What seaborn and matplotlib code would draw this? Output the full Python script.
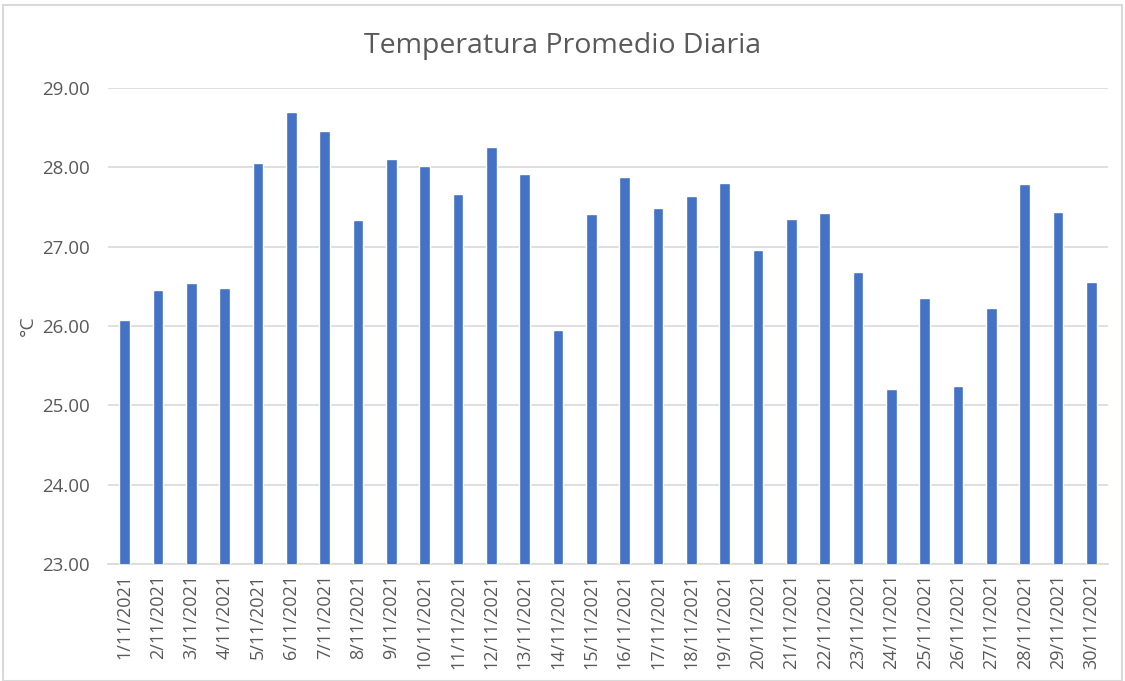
import matplotlib
matplotlib.use("Agg")
import matplotlib.pyplot as plt
import seaborn as sns
import pandas as pd
import numpy as np
from matplotlib.patches import Rectangle

# daily mean temperature, November 2021
dias = [f"{d}/11/2021" for d in range(1, 31)]
temp = [26.08, 26.46, 26.54, 26.48, 28.05, 28.70, 28.46, 27.34, 28.11, 28.02,
        27.67, 28.26, 27.91, 25.95, 27.41, 27.88, 27.49, 27.64, 27.80, 26.96,
        27.35, 27.42, 26.68, 25.20, 26.35, 25.24, 26.23, 27.79, 27.44, 26.55]
yticks = [23, 24, 25, 26, 27, 28, 29]

df = pd.DataFrame({"fecha": dias, "temp": temp})

sns.set_style("white")
plt.rcParams["font.family"] = ["Open Sans", "DejaVu Sans"]

gris_txt = "#595959"
gris_lin = "#D9D9D9"

fig = plt.figure(figsize=(11.25, 6.81), dpi=100)
ax = fig.add_axes([108 / 1125, 1 - 564 / 681, 1000 / 1125, 476 / 681])

sns.barplot(data=df, x="fecha", y="temp", color="#4472C4", width=0.32,
            saturation=1, ax=ax, zorder=3)

ax.set_ylim(23, 29)
ax.set_xlim(-0.5, len(dias) - 0.5)
ax.set_yticks(yticks)
ax.set_yticklabels([f"{v:.2f}" for v in yticks], fontsize=13.5, color=gris_txt)
ax.set_xticks(range(len(dias)))
ax.set_xticklabels(dias, rotation=90, fontsize=13, color=gris_txt)
ax.set_xticks(np.arange(-0.5, len(dias)), minor=True)
ax.tick_params(axis="x", which="major", length=0, pad=7)
ax.tick_params(axis="x", which="minor", length=5, width=1.2, color=gris_lin)
ax.tick_params(axis="y", length=0, pad=13)

ax.grid(axis="y", color=gris_lin, linewidth=1.2, zorder=0)
ax.set_axisbelow(True)
for s in ["top", "right", "left"]:
    ax.spines[s].set_visible(False)
ax.spines["bottom"].set_color(gris_lin)
ax.spines["bottom"].set_linewidth(1.2)

ax.set_xlabel("")
ax.set_ylabel("°C", fontsize=14, color=gris_txt, labelpad=4)

fig.text(0.5, 1 - 46 / 681, "Temperatura Promedio Diaria", ha="center",
         va="center", fontsize=20.5, color=gris_txt)

# chart area border
fig.patches.append(Rectangle((3 / 1125, 0), 1 - 6 / 1125, 1 - 5 / 681,
                             transform=fig.transFigure, fill=False,
                             edgecolor=gris_lin, linewidth=1.5))

fig.savefig("out.png", dpi=100)
